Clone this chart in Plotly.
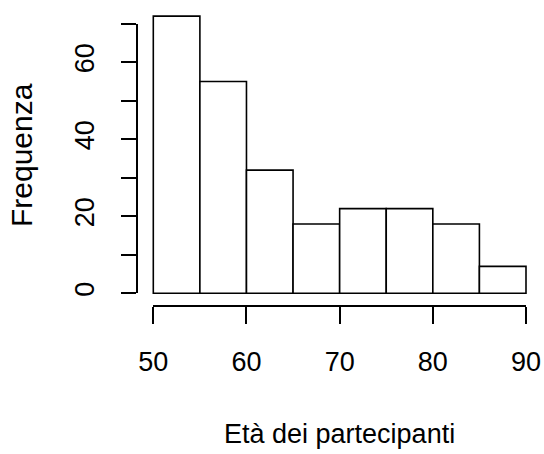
import plotly.graph_objects as go

bin_starts = [50, 55, 60, 65, 70, 75, 80, 85]
bin_width = 5
counts = [72, 55, 32, 18, 22, 22, 18, 7]
x_ticks = [50, 60, 70, 80, 90]
y_ticks = [0, 10, 20, 30, 40, 50, 60, 70]
y_tick_labels = ["0", "", "20", "", "40", "", "60", ""]
x_title = "Età dei partecipanti"
y_title = "Frequenza"

W, H = 544, 454
FONT = "Liberation Sans, Arial, sans-serif"

def fx(px):
    return px / W

def fy(py):
    return (H - py) / H

x0_px, x1_px = 153.3, 526.0
base_px = 293.3
ppu = 3.85
top_px = 8.0
pad_px = 3.0
y_top_val = (base_px - top_px) / ppu
y_bot_val = -pad_px / ppu

centers = [s + bin_width / 2 for s in bin_starts]

fig = go.Figure()
fig.add_trace(go.Bar(
    x=centers, y=counts, width=[bin_width] * len(counts),
    marker=dict(color="white", line=dict(color="black", width=1.6)),
    xaxis="x", yaxis="y", hoverinfo="skip", showlegend=False,
))
fig.add_trace(go.Scatter(
    x=[None], y=[None], xaxis="x", yaxis="y2", mode="markers",
    showlegend=False, hoverinfo="skip",
))

fig.update_layout(
    template="none",
    width=W, height=H,
    margin=dict(l=0, r=0, t=0, b=0, autoexpand=False),
    paper_bgcolor="white", plot_bgcolor="rgba(0,0,0,0)",
    font=dict(family=FONT, size=27, color="black"),
    showlegend=False,
    xaxis=dict(
        domain=[fx(x0_px - 2), fx(x1_px + 2)],
        range=[50 - 2 / 9.32, 90 + 2 / 9.32],
        anchor="free", position=fy(305.7), automargin=False,
        showline=False,
        ticks="outside", ticklen=17, tickwidth=1.6, tickcolor="black",
        tickvals=x_ticks, ticktext=[str(v) for v in x_ticks],
        ticklabelstandoff=15,
        showgrid=False, zeroline=False, fixedrange=True,
    ),
    xaxis2=dict(
        domain=[fx(x0_px), fx(x1_px)], range=[50, 90],
        anchor="free", position=fy(305.7), automargin=False,
        showline=True, linecolor="black", linewidth=1.6,
        ticks="", showticklabels=False,
        showgrid=False, zeroline=False, overlaying=None,
    ),
    yaxis=dict(
        domain=[fy(base_px + pad_px), fy(top_px)], range=[y_bot_val, y_top_val],
        automargin=False,
        showline=False, showticklabels=False, ticks="",
        showgrid=False, zeroline=False,
    ),
    yaxis2=dict(
        domain=[fy(base_px), fy(base_px - 70 * ppu)], range=[0, 70],
        anchor="free", position=fx(137), side="left", automargin=False,
        showline=True, linecolor="black", linewidth=1.6,
        ticks="outside", ticklen=15, tickwidth=1.6, tickcolor="black",
        tickvals=y_ticks, ticktext=y_tick_labels, tickangle=-90,
        ticklabelstandoff=16,
        showgrid=False, zeroline=False,
    ),
    annotations=[
        dict(text=x_title, xref="paper", yref="paper", x=fx(339), y=fy(434),
             xanchor="center", yanchor="middle", showarrow=False,
             font=dict(family=FONT, size=27, color="black")),
        dict(text=y_title, xref="paper", yref="paper", x=fx(21), y=fy(155),
             xanchor="center", yanchor="middle", showarrow=False, textangle=-90,
             font=dict(family=FONT, size=30, color="black")),
    ],
)
fig.add_trace(go.Scatter(
    x=[None], y=[None], xaxis="x2", yaxis="y2", mode="markers",
    showlegend=False, hoverinfo="skip",
))

fig.write_html("out.html")
